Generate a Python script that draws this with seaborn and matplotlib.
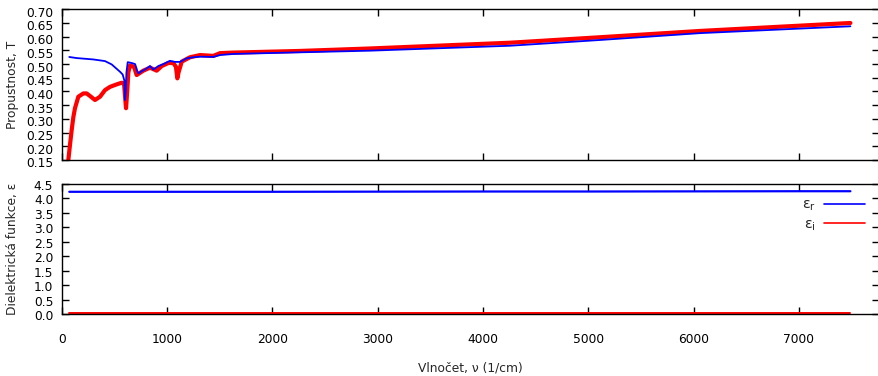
import numpy as np
import pandas as pd
import matplotlib
matplotlib.use("Agg")
import matplotlib.pyplot as plt
import matplotlib.transforms as mtransforms
from matplotlib.lines import Line2D
import seaborn as sns

# ---------------- data ----------------
wn_T_calc = [72, 142, 300, 411, 474, 554, 579, 595, 601, 608, 615, 627, 665, 697,
             718, 728, 759, 791, 839, 870, 918, 965, 1028, 1076, 1124, 1187, 1250,
             1314, 1440, 1504, 1630, 2263, 2928, 4257, 5112, 6062, 7490]
T_calc = [0.526, 0.522, 0.517, 0.511, 0.499, 0.472, 0.462, 0.440, 0.369, 0.400,
          0.470, 0.507, 0.504, 0.500, 0.475, 0.466, 0.474, 0.480, 0.493, 0.480,
          0.493, 0.500, 0.512, 0.508, 0.508, 0.521, 0.525, 0.527, 0.526, 0.533,
          0.537, 0.543, 0.549, 0.567, 0.588, 0.613, 0.638]

wn_T_meas = [63, 80, 95, 110, 126, 158, 206, 237, 284, 316, 364, 411, 459, 522,
             570, 592, 602, 611, 622, 633, 648, 687, 712, 775, 839, 902, 950,
             1013, 1060, 1085, 1098, 1110, 1140, 1219, 1314, 1440, 1504, 1630,
             2263, 2928, 4257, 5112, 6062, 7490]
T_meas = [0.150, 0.210, 0.260, 0.305, 0.339, 0.381, 0.393, 0.393, 0.379, 0.369,
          0.381, 0.405, 0.417, 0.426, 0.432, 0.430, 0.380, 0.339, 0.400, 0.470,
          0.495, 0.490, 0.460, 0.476, 0.487, 0.476, 0.493, 0.504, 0.504, 0.490,
          0.448, 0.470, 0.509, 0.525, 0.533, 0.530, 0.540, 0.542, 0.548, 0.557,
          0.578, 0.598, 0.621, 0.650]

wn_eps = [72, 1000, 2000, 3000, 4000, 5000, 6000, 7000, 7490]
eps_r = [4.23, 4.23, 4.23, 4.235, 4.24, 4.24, 4.245, 4.25, 4.25]
eps_i = [0.03, 0.03, 0.03, 0.03, 0.03, 0.03, 0.03, 0.03, 0.03]

y_ticks_T = [0.15, 0.20, 0.25, 0.30, 0.35, 0.40, 0.45, 0.50, 0.55, 0.60, 0.65, 0.70]
y_ticks_eps = [0.0, 0.5, 1.0, 1.5, 2.0, 2.5, 3.0, 3.5, 4.0, 4.5]
x_ticks = [0, 1000, 2000, 3000, 4000, 5000, 6000, 7000]

df_calc = pd.DataFrame({"wn": wn_T_calc, "T": T_calc})
df_meas = pd.DataFrame({"wn": wn_T_meas, "T": T_meas})
df_eps = pd.DataFrame({"wn": wn_eps, "er": eps_r, "ei": eps_i})

# ---------------- style ----------------
sns.set_style("white")
plt.rcParams["font.family"] = ["DejaVu Sans"]
plt.rcParams["mathtext.default"] = "regular"
FS = 8.8

W, H = 879, 376
fig = plt.figure(figsize=(W / 100, H / 100), dpi=100)

left = 61.7 / W
ax1 = fig.add_axes([left, 1 - 160 / H, 1 - left, (160 - 9.3) / H])
ax2 = fig.add_axes([left, 1 - 314 / H, 1 - left, (314 - 184) / H])

BLUE = "#0000ff"
RED = "#ff0000"

sns.lineplot(data=df_meas, x="wn", y="T", ax=ax1, color=RED, linewidth=3.0,
             sort=False, estimator=None)
sns.lineplot(data=df_calc, x="wn", y="T", ax=ax1, color=BLUE, linewidth=1.3,
             sort=False, estimator=None)

sns.lineplot(data=df_eps, x="wn", y="er", ax=ax2, color=BLUE, linewidth=1.6,
             sort=False, estimator=None)
sns.lineplot(data=df_eps, x="wn", y="ei", ax=ax2, color=RED, linewidth=1.4,
             sort=False, estimator=None)

xmax = (W - 61.7) / 105.3 * 1000
for ax in (ax1, ax2):
    ax.set_xlim(0, xmax)
    ax.set_xticks(x_ticks)
    ax.tick_params(axis="both", which="both", direction="in", length=5, width=1,
                   top=True, right=True, bottom=True, left=True,
                   labelsize=FS, colors="black", labelcolor="black")
    ax.tick_params(axis="y", pad=6)
    for s in ("left", "bottom", "top"):
        ax.spines[s].set_visible(True)
        ax.spines[s].set_color("black")
        ax.spines[s].set_linewidth(1.0)
    ax.spines["right"].set_visible(False)
    ax.grid(False)
    ax.set_facecolor("white")

ax1.set_ylim(0.15, 0.70)
ax1.set_yticks(y_ticks_T)
ax1.set_yticklabels([f"{v:.2f}" for v in y_ticks_T])
ax1.tick_params(axis="x", labelbottom=False)
ax1.set_xlabel("")
ax1.set_ylabel("Propustnost, T", fontsize=FS)
ax1.yaxis.set_label_coords((19.5 - 61.7) / (W - 61.7), 0.5)

ax2.set_ylim(0.0, 4.5)
ax2.set_yticks(y_ticks_eps)
ax2.set_yticklabels([f"{v:.1f}" for v in y_ticks_eps])
ax2.set_xticklabels([str(v) for v in x_ticks])
ax2.tick_params(axis="x", pad=13.5)
ax2.set_ylabel("Dielektrická funkce, ε", fontsize=FS)
ax2.yaxis.set_label_coords((19.5 - 61.7) / (W - 61.7), 0.5)
ax2.set_xlabel("Vlnočet, ν (1/cm)", fontsize=FS, labelpad=11.5)

# small downward shift of y tick labels (gnuplot-like placement)
off1 = mtransforms.ScaledTranslation(0, -2.5 / 100, fig.dpi_scale_trans)
for lab in ax1.get_yticklabels():
    lab.set_transform(lab.get_transform() + off1)
off2 = mtransforms.ScaledTranslation(0, -1.0 / 100, fig.dpi_scale_trans)
for lab in ax2.get_yticklabels():
    lab.set_transform(lab.get_transform() + off2)

handles = [Line2D([], [], color=BLUE, linewidth=1.2),
           Line2D([], [], color=RED, linewidth=1.2)]
labels = ["ε$_{r}$", "ε$_{i}$"]
leg = ax2.legend(handles, labels, loc="upper right", markerfirst=False,
                 frameon=False, fontsize=FS + 1.5,
                 bbox_to_anchor=((871 - 61.7) / (W - 61.7), (314 - 192) / 130),
                 handlelength=2.9, handletextpad=0.55, labelspacing=0.3,
                 borderaxespad=0)

fig.savefig("out.png", dpi=100, facecolor="white")
